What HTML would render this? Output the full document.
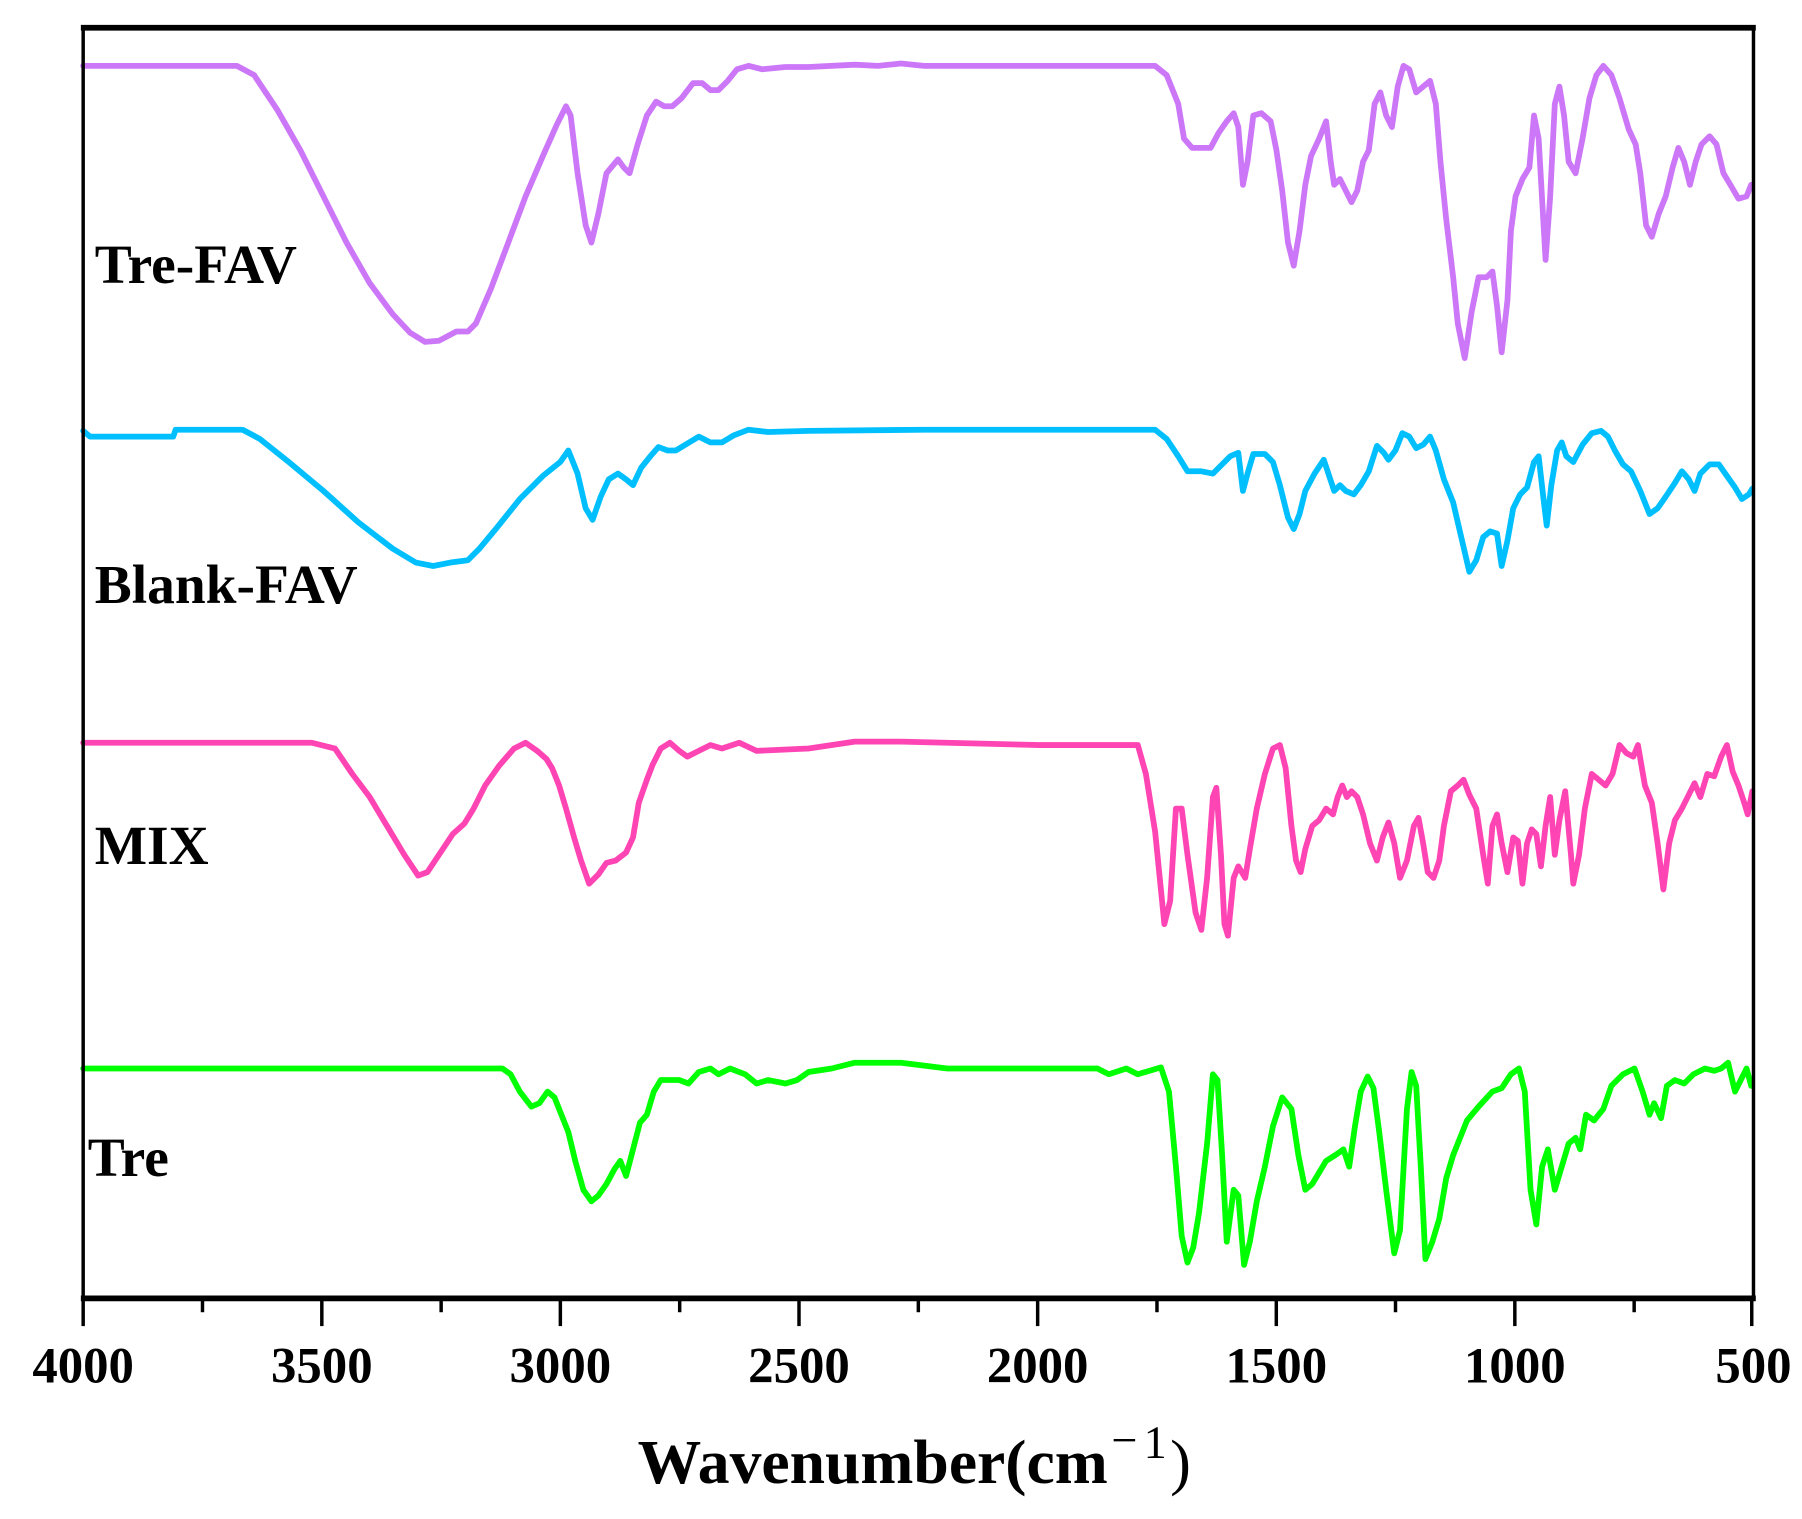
<!DOCTYPE html>
<html><head><meta charset="utf-8"><style>html,body{margin:0;padding:0;background:#fff;}svg{display:block;}</style></head>
<body>
<svg width="1802" height="1519" viewBox="0 0 1560 1315" preserveAspectRatio="none" xmlns="http://www.w3.org/2000/svg">
<rect width="1560" height="1315" fill="#fff"/>
<g fill="none" stroke-width="5" stroke-linejoin="round" stroke-linecap="round">
<polyline stroke="#CC77F8" points="72,57 205,57 220,65 240,95 260,130 280,170 300,210 320,245 340,272 355,288 368,296 380,295 395,287 405,287 412,280 425,250 440,210 455,170 470,135 482,108 490,92 494,100 500,150 507,195 512,210 518,185 525,150 535,138 540,145 545,150 552,125 560,100 568,88 575,92 582,92 590,85 600,72 608,72 615,78 622,78 630,70 638,60 648,57 660,60 680,58 700,58 740,56 760,57 780,55 800,57 1000,57 1010,65 1020,90 1025,120 1032,128 1040,128 1048,128 1055,115 1062,105 1068,98 1072,110 1076,160 1080,140 1085,100 1092,98 1100,105 1105,130 1110,165 1115,210 1120,230 1125,200 1130,160 1135,135 1142,120 1148,105 1152,140 1155,160 1160,155 1165,165 1170,175 1175,165 1180,140 1185,130 1190,90 1195,80 1200,100 1205,110 1210,75 1215,57 1220,60 1226,80 1232,75 1238,70 1243,90 1247,140 1252,190 1258,240 1262,280 1268,310 1274,270 1280,240 1287,240 1292,235 1296,265 1300,305 1305,260 1308,200 1312,170 1318,155 1324,145 1328,100 1332,120 1336,190 1338,225 1342,170 1346,90 1350,75 1354,100 1358,140 1364,150 1370,120 1376,85 1382,65 1388,57 1395,65 1402,85 1410,112 1416,125 1420,150 1425,195 1430,205 1436,185 1442,170 1448,145 1453,128 1458,140 1463,160 1468,140 1473,125 1480,118 1486,125 1492,150 1498,160 1505,172 1512,170 1516,160"/>
<polyline stroke="#00BFFF" points="72,373 78,378 150,378 152,372 210,372 225,380 250,400 280,425 310,452 340,475 360,487 375,490 390,487 405,485 415,475 430,457 450,432 470,412 485,400 492,390 500,410 507,440 513,450 520,430 527,415 535,410 542,415 548,420 555,405 563,395 570,387 578,390 585,390 595,384 605,378 615,383 625,383 635,377 648,372 665,374 700,373 800,372 1000,372 1010,380 1020,395 1028,408 1040,408 1050,410 1058,402 1065,395 1072,392 1076,425 1080,410 1085,393 1095,393 1102,400 1108,420 1115,448 1120,458 1125,445 1130,425 1138,410 1146,398 1150,410 1155,425 1160,420 1165,425 1172,428 1178,420 1185,408 1192,386 1198,392 1202,398 1208,390 1214,375 1220,378 1226,388 1232,385 1238,378 1243,390 1250,415 1258,435 1265,465 1272,495 1278,485 1284,465 1290,460 1296,462 1300,490 1305,468 1310,440 1316,428 1322,422 1328,400 1332,395 1336,430 1339,455 1343,420 1348,390 1352,383 1356,395 1362,400 1370,385 1378,375 1386,373 1392,378 1398,390 1405,402 1412,408 1420,425 1428,445 1435,440 1442,430 1450,418 1456,408 1462,415 1467,425 1472,410 1480,402 1488,402 1495,412 1502,422 1508,432 1514,428 1517,423"/>
<polyline stroke="#FF44B4" points="72,643 270,643 290,648 305,670 320,690 335,715 350,740 362,758 370,755 380,740 392,722 402,713 410,700 420,680 432,663 445,648 455,643 465,650 473,657 478,665 484,680 490,700 497,725 503,745 510,765 518,757 525,747 533,745 542,738 548,725 553,695 560,675 565,662 572,648 580,643 588,650 595,655 605,650 615,645 625,648 640,643 655,650 700,648 740,642 780,642 900,645 985,645 992,670 1000,720 1008,800 1013,780 1018,700 1023,700 1028,740 1035,790 1040,805 1045,760 1050,690 1053,682 1057,740 1060,800 1063,810 1068,760 1072,750 1078,760 1082,735 1088,700 1095,670 1102,648 1108,645 1113,665 1118,715 1122,745 1126,755 1130,735 1136,715 1142,710 1148,700 1154,705 1158,690 1162,680 1166,690 1170,685 1175,690 1180,705 1186,730 1192,745 1197,725 1202,712 1207,730 1212,760 1218,745 1224,715 1228,708 1232,730 1236,755 1241,760 1246,745 1250,715 1256,685 1262,680 1267,675 1272,688 1278,700 1284,740 1288,765 1292,715 1296,705 1300,730 1305,755 1310,725 1314,728 1318,765 1322,730 1326,718 1330,722 1334,750 1338,715 1342,690 1346,740 1350,710 1355,685 1360,740 1362,765 1367,740 1372,700 1378,670 1384,675 1390,680 1396,670 1402,645 1408,652 1414,655 1418,645 1424,680 1430,695 1435,730 1440,770 1445,730 1450,710 1456,700 1462,688 1467,678 1472,690 1478,670 1484,672 1490,655 1495,645 1500,668 1505,680 1510,695 1513,705 1517,685"/>
<polyline stroke="#00FF00" points="72,925 435,925 442,930 450,945 460,958 467,955 474,945 480,950 486,965 492,980 498,1005 505,1030 512,1040 518,1035 525,1025 532,1012 537,1005 542,1018 548,995 554,972 560,965 566,945 572,935 580,935 588,935 596,938 605,928 615,925 622,930 632,925 645,930 655,938 665,935 680,938 690,935 700,928 720,925 740,920 780,920 820,925 950,925 960,930 975,925 985,930 1005,924 1012,945 1018,1010 1023,1070 1028,1093 1033,1080 1038,1050 1045,990 1050,930 1054,935 1058,1000 1062,1075 1068,1030 1072,1035 1077,1095 1082,1075 1088,1040 1095,1010 1102,975 1110,950 1118,960 1124,1000 1130,1030 1136,1025 1142,1015 1148,1005 1156,1000 1163,995 1168,1010 1173,975 1178,945 1184,932 1189,942 1194,980 1200,1030 1207,1085 1212,1065 1218,960 1222,928 1226,940 1230,1010 1234,1090 1240,1075 1246,1055 1252,1020 1258,1000 1264,985 1270,970 1280,958 1292,945 1300,942 1308,930 1315,925 1320,945 1325,1030 1330,1060 1335,1010 1340,995 1346,1030 1352,1010 1358,990 1364,985 1368,995 1373,965 1380,970 1388,960 1395,940 1405,930 1415,925 1422,945 1428,965 1432,955 1438,968 1443,940 1450,935 1458,938 1466,930 1476,925 1484,927 1490,925 1496,920 1502,945 1507,935 1512,925 1516,940"/>
</g>
<g stroke="#000" fill="none">
<line x1="72" y1="22" x2="72" y2="1125" stroke-width="3"/>
<line x1="1518" y1="22" x2="1518" y2="1125" stroke-width="3"/>
<line x1="70" y1="24" x2="1520" y2="24" stroke-width="5"/>
<line x1="70" y1="1124" x2="1520" y2="1124" stroke-width="5"/>
<g stroke-width="3">
<line x1="72" y1="1124" x2="72" y2="1148"/><line x1="175.3" y1="1124" x2="175.3" y2="1136"/>
<line x1="278.6" y1="1124" x2="278.6" y2="1148"/><line x1="381.9" y1="1124" x2="381.9" y2="1136"/>
<line x1="485.1" y1="1124" x2="485.1" y2="1148"/><line x1="588.4" y1="1124" x2="588.4" y2="1136"/>
<line x1="691.7" y1="1124" x2="691.7" y2="1148"/><line x1="795" y1="1124" x2="795" y2="1136"/>
<line x1="898.3" y1="1124" x2="898.3" y2="1148"/><line x1="1001.6" y1="1124" x2="1001.6" y2="1136"/>
<line x1="1104.9" y1="1124" x2="1104.9" y2="1148"/><line x1="1208.1" y1="1124" x2="1208.1" y2="1136"/>
<line x1="1311.4" y1="1124" x2="1311.4" y2="1148"/><line x1="1414.7" y1="1124" x2="1414.7" y2="1136"/>
<line x1="1516.5" y1="1124" x2="1516.5" y2="1148"/>
</g>
</g>
<g font-family="'Liberation Serif', serif" font-weight="bold" fill="#000">
<g font-size="44" text-anchor="middle">
<text x="72" y="1197">4000</text><text x="278.6" y="1197">3500</text><text x="485.1" y="1197">3000</text>
<text x="691.7" y="1197">2500</text><text x="898.3" y="1197">2000</text><text x="1104.9" y="1197">1500</text>
<text x="1311.4" y="1197">1000</text><text x="1518" y="1197">500</text>
</g>
<text x="552" y="1284" font-size="54" textLength="407" lengthAdjust="spacingAndGlyphs">Wavenumber(cm</text>
<text x="962" y="1260" font-size="40" font-weight="normal">−</text>
<text x="990" y="1262" font-size="40" font-weight="normal">1</text>
<text x="1013" y="1284" font-size="54" font-weight="normal">)</text>
<g font-size="48">
<text x="82" y="245">Tre-FAV</text>
<text x="82" y="522">Blank-FAV</text>
<text x="82" y="748">MIX</text>
<text x="76" y="1018">Tre</text>
</g>
</g>
</svg>
</body></html>
